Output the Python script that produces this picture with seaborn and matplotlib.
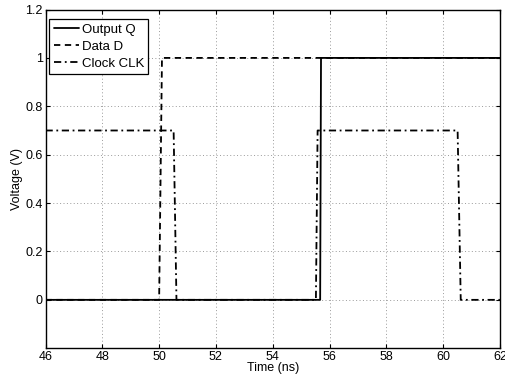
import numpy as np
import pandas as pd
import matplotlib
matplotlib.use("Agg")
import matplotlib.pyplot as plt
import seaborn as sns

# ── Data (step waveforms) ────────────────────────────────────────────────────
q_time = [46.0, 55.67, 55.70, 62.0]
q_volt = [0.0, 0.0, 1.0, 1.0]

d_time = [46.0, 50.00, 50.10, 62.0]
d_volt = [0.0, 0.0, 1.0, 1.0]

clk_time = [46.0, 50.51, 50.61, 55.52, 55.58, 60.51, 60.62, 62.0]
clk_volt = [0.7, 0.7, 0.0, 0.0, 0.7, 0.7, 0.0, 0.0]

x_ticks = [46, 48, 50, 52, 54, 56, 58, 60, 62]
y_ticks = [0, 0.2, 0.4, 0.6, 0.8, 1.0, 1.2]
y_ticklabels = ["0", "0.2", "0.4", "0.6", "0.8", "1", "1.2"]

SERIES = [
    ("Output Q", q_time, q_volt, "-"),
    ("Data D", d_time, d_volt, (0, (3.5, 2.5))),
    ("Clock CLK", clk_time, clk_volt, (0, (4, 2, 1, 2))),
]

sns.set_style("ticks")
plt.rcParams["font.family"] = ["Liberation Sans", "DejaVu Sans"]
plt.rcParams["text.color"] = "black"
plt.rcParams["xtick.color"] = "black"
plt.rcParams["ytick.color"] = "black"
plt.rcParams["axes.labelcolor"] = "black"

fig = plt.figure(figsize=(5.06, 3.81), dpi=100)
ax = fig.add_axes([0.090, 0.086, 0.898, 0.889])

for name, t, v, ls in SERIES:
    df = pd.DataFrame({"t": t, "v": v})
    sns.lineplot(data=df, x="t", y="v", ax=ax, sort=False, estimator=None,
                 color="black", lw=1.3, linestyle=ls, label=name)

ax.set_xlim(46, 62)
ax.set_ylim(-0.2, 1.2)
ax.set_xticks(x_ticks)
ax.set_xticklabels([str(x) for x in x_ticks])
ax.set_yticks(y_ticks)
ax.set_yticklabels(y_ticklabels)
ax.tick_params(direction="in", length=3, labelsize=9, top=True, right=True,
               labeltop=False, labelright=False, width=0.8, pad=2)
ax.grid(True, linestyle=(0, (1, 2.5)), color="#9a9a9a", linewidth=0.7)
for s in ax.spines.values():
    s.set_visible(True)
    s.set_linewidth(1.0)
    s.set_color("black")

ax.set_xlabel("Time (ns)", fontsize=9, labelpad=-1)
ax.set_ylabel("Voltage (V)", fontsize=9, labelpad=2)

leg = ax.legend(loc="upper left", bbox_to_anchor=(0.008, 0.972),
                borderaxespad=0, fontsize=9.5, frameon=True, fancybox=False,
                handlelength=1.9, handletextpad=0.2, borderpad=0.35,
                labelspacing=0.35)
leg.get_frame().set_edgecolor("black")
leg.get_frame().set_linewidth(0.9)
leg.get_frame().set_alpha(1.0)

fig.savefig("out.png", dpi=100)
plt.close(fig)
